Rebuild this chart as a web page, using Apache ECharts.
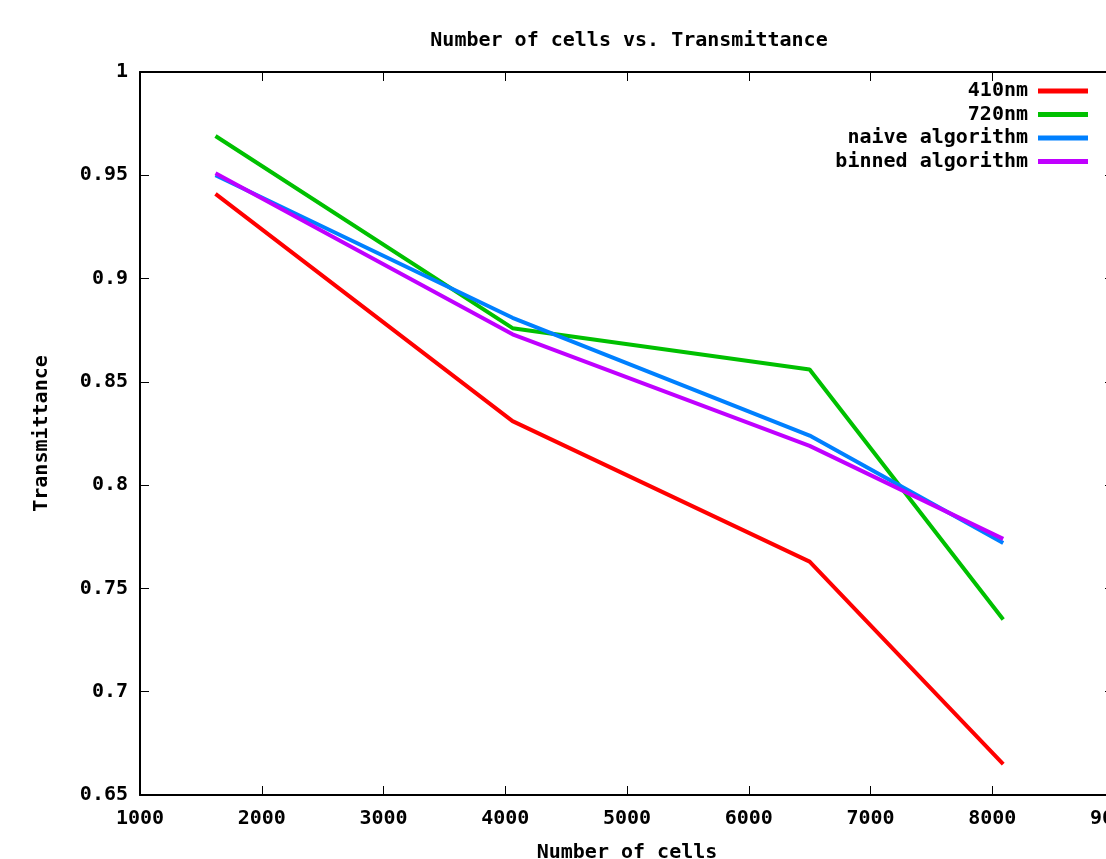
<!DOCTYPE html>
<html lang="en">
<head>
<meta charset="utf-8">
<script src="https://cdn.jsdelivr.net/npm/echarts@6/dist/echarts.min.js"></script>
<style>
  html, body { margin: 0; padding: 0; background: #fff; }
  #chart { width: 1106px; height: 859px; }
</style>
</head>
<body>
<div id="chart"></div>
<script>
    // data
    var cells = [1620, 4060, 6500, 8090];
    var nm410 = [0.941, 0.831, 0.763, 0.665];
    var nm720 = [0.969, 0.876, 0.856, 0.735];
    var naive = [0.950, 0.881, 0.824, 0.772];
    var binned = [0.951, 0.873, 0.819, 0.774];

    var names = ['410nm', '720nm', 'naive algorithm', 'binned algorithm'];
    var colors = ['#ff0000', '#00c000', '#0080ff', '#c000ff'];

    var font = 'DejaVu Sans Mono';
    var fsize = 20;

    function pairs(ys) {
        var out = [];
        for (var i = 0; i < cells.length; i++) {
            out.push([cells[i], ys[i]]);
        }
        return out;
    }

    var chart = echarts.init(document.getElementById('chart'));

    var tickStyle = { show: true, inside: true, length: 9, lineStyle: { color: '#000', width: 1 } };
    var textStyle = { fontFamily: font, fontWeight: 'bold', fontSize: fsize, color: '#000' };

    var option = {
        animation: false,
        backgroundColor: '#fff',
        color: colors,
        title: {
            text: 'Number of cells vs. Transmittance',
            left: 624,
            textAlign: 'center',
            top: 26,
            textStyle: textStyle
        },
        legend: {
            orient: 'vertical',
            right: 18,
            top: 81,
            padding: 0,
            align: 'right',
            icon: 'rect',
            itemWidth: 50,
            itemHeight: 5,
            itemGap: 3.5,
            textStyle: { fontFamily: font, fontWeight: 'bold', fontSize: fsize, color: '#000', padding: [0, 5, 0, 0] },
            data: names
        },
        grid: {
            left: 140,
            top: 72,
            right: -8,
            bottom: 64,
            outerBoundsMode: 'none'
        },
        xAxis: [
            {
                type: 'value',
                min: 1000,
                max: 9000,
                interval: 1000,
                name: 'Number of cells',
                nameLocation: 'middle',
                nameGap: 48,
                nameTextStyle: textStyle,
                axisLine: { show: true, lineStyle: { color: '#000', width: 2 } },
                axisTick: tickStyle,
                axisLabel: {
                    margin: 14, fontFamily: font, fontWeight: 'bold', fontSize: fsize, color: '#000',
                    formatter: function (v) { return String(v); }
                },
                splitLine: { show: false }
            },
            {
                type: 'value',
                position: 'top',
                min: 1000,
                max: 9000,
                interval: 1000,
                axisLine: { show: true, lineStyle: { color: '#000', width: 2 } },
                axisTick: tickStyle,
                axisLabel: { show: false },
                splitLine: { show: false }
            }
        ],
        yAxis: [
            {
                type: 'value',
                min: 0.65,
                max: 1,
                interval: 0.05,
                name: 'Transmittance',
                nameLocation: 'middle',
                nameGap: 88,
                nameRotate: 90,
                nameTextStyle: textStyle,
                axisLine: { show: true, lineStyle: { color: '#000', width: 2 } },
                axisTick: tickStyle,
                axisLabel: {
                    margin: 12, fontFamily: font, fontWeight: 'bold', fontSize: fsize, color: '#000',
                    formatter: function (v) { return String(+v.toFixed(2)); }
                },
                splitLine: { show: false }
            },
            {
                type: 'value',
                position: 'right',
                min: 0.65,
                max: 1,
                interval: 0.05,
                axisLine: { show: true, lineStyle: { color: '#000', width: 2 } },
                axisTick: tickStyle,
                axisLabel: { show: false },
                splitLine: { show: false }
            }
        ],
        series: [
            { name: names[0], type: 'line', data: pairs(nm410), showSymbol: false, lineStyle: { width: 4 } },
            { name: names[1], type: 'line', data: pairs(nm720), showSymbol: false, lineStyle: { width: 4 } },
            { name: names[2], type: 'line', data: pairs(naive), showSymbol: false, lineStyle: { width: 4 } },
            { name: names[3], type: 'line', data: pairs(binned), showSymbol: false, lineStyle: { width: 4 } }
        ]
    };

    chart.setOption(option);
</script>
</body>
</html>
